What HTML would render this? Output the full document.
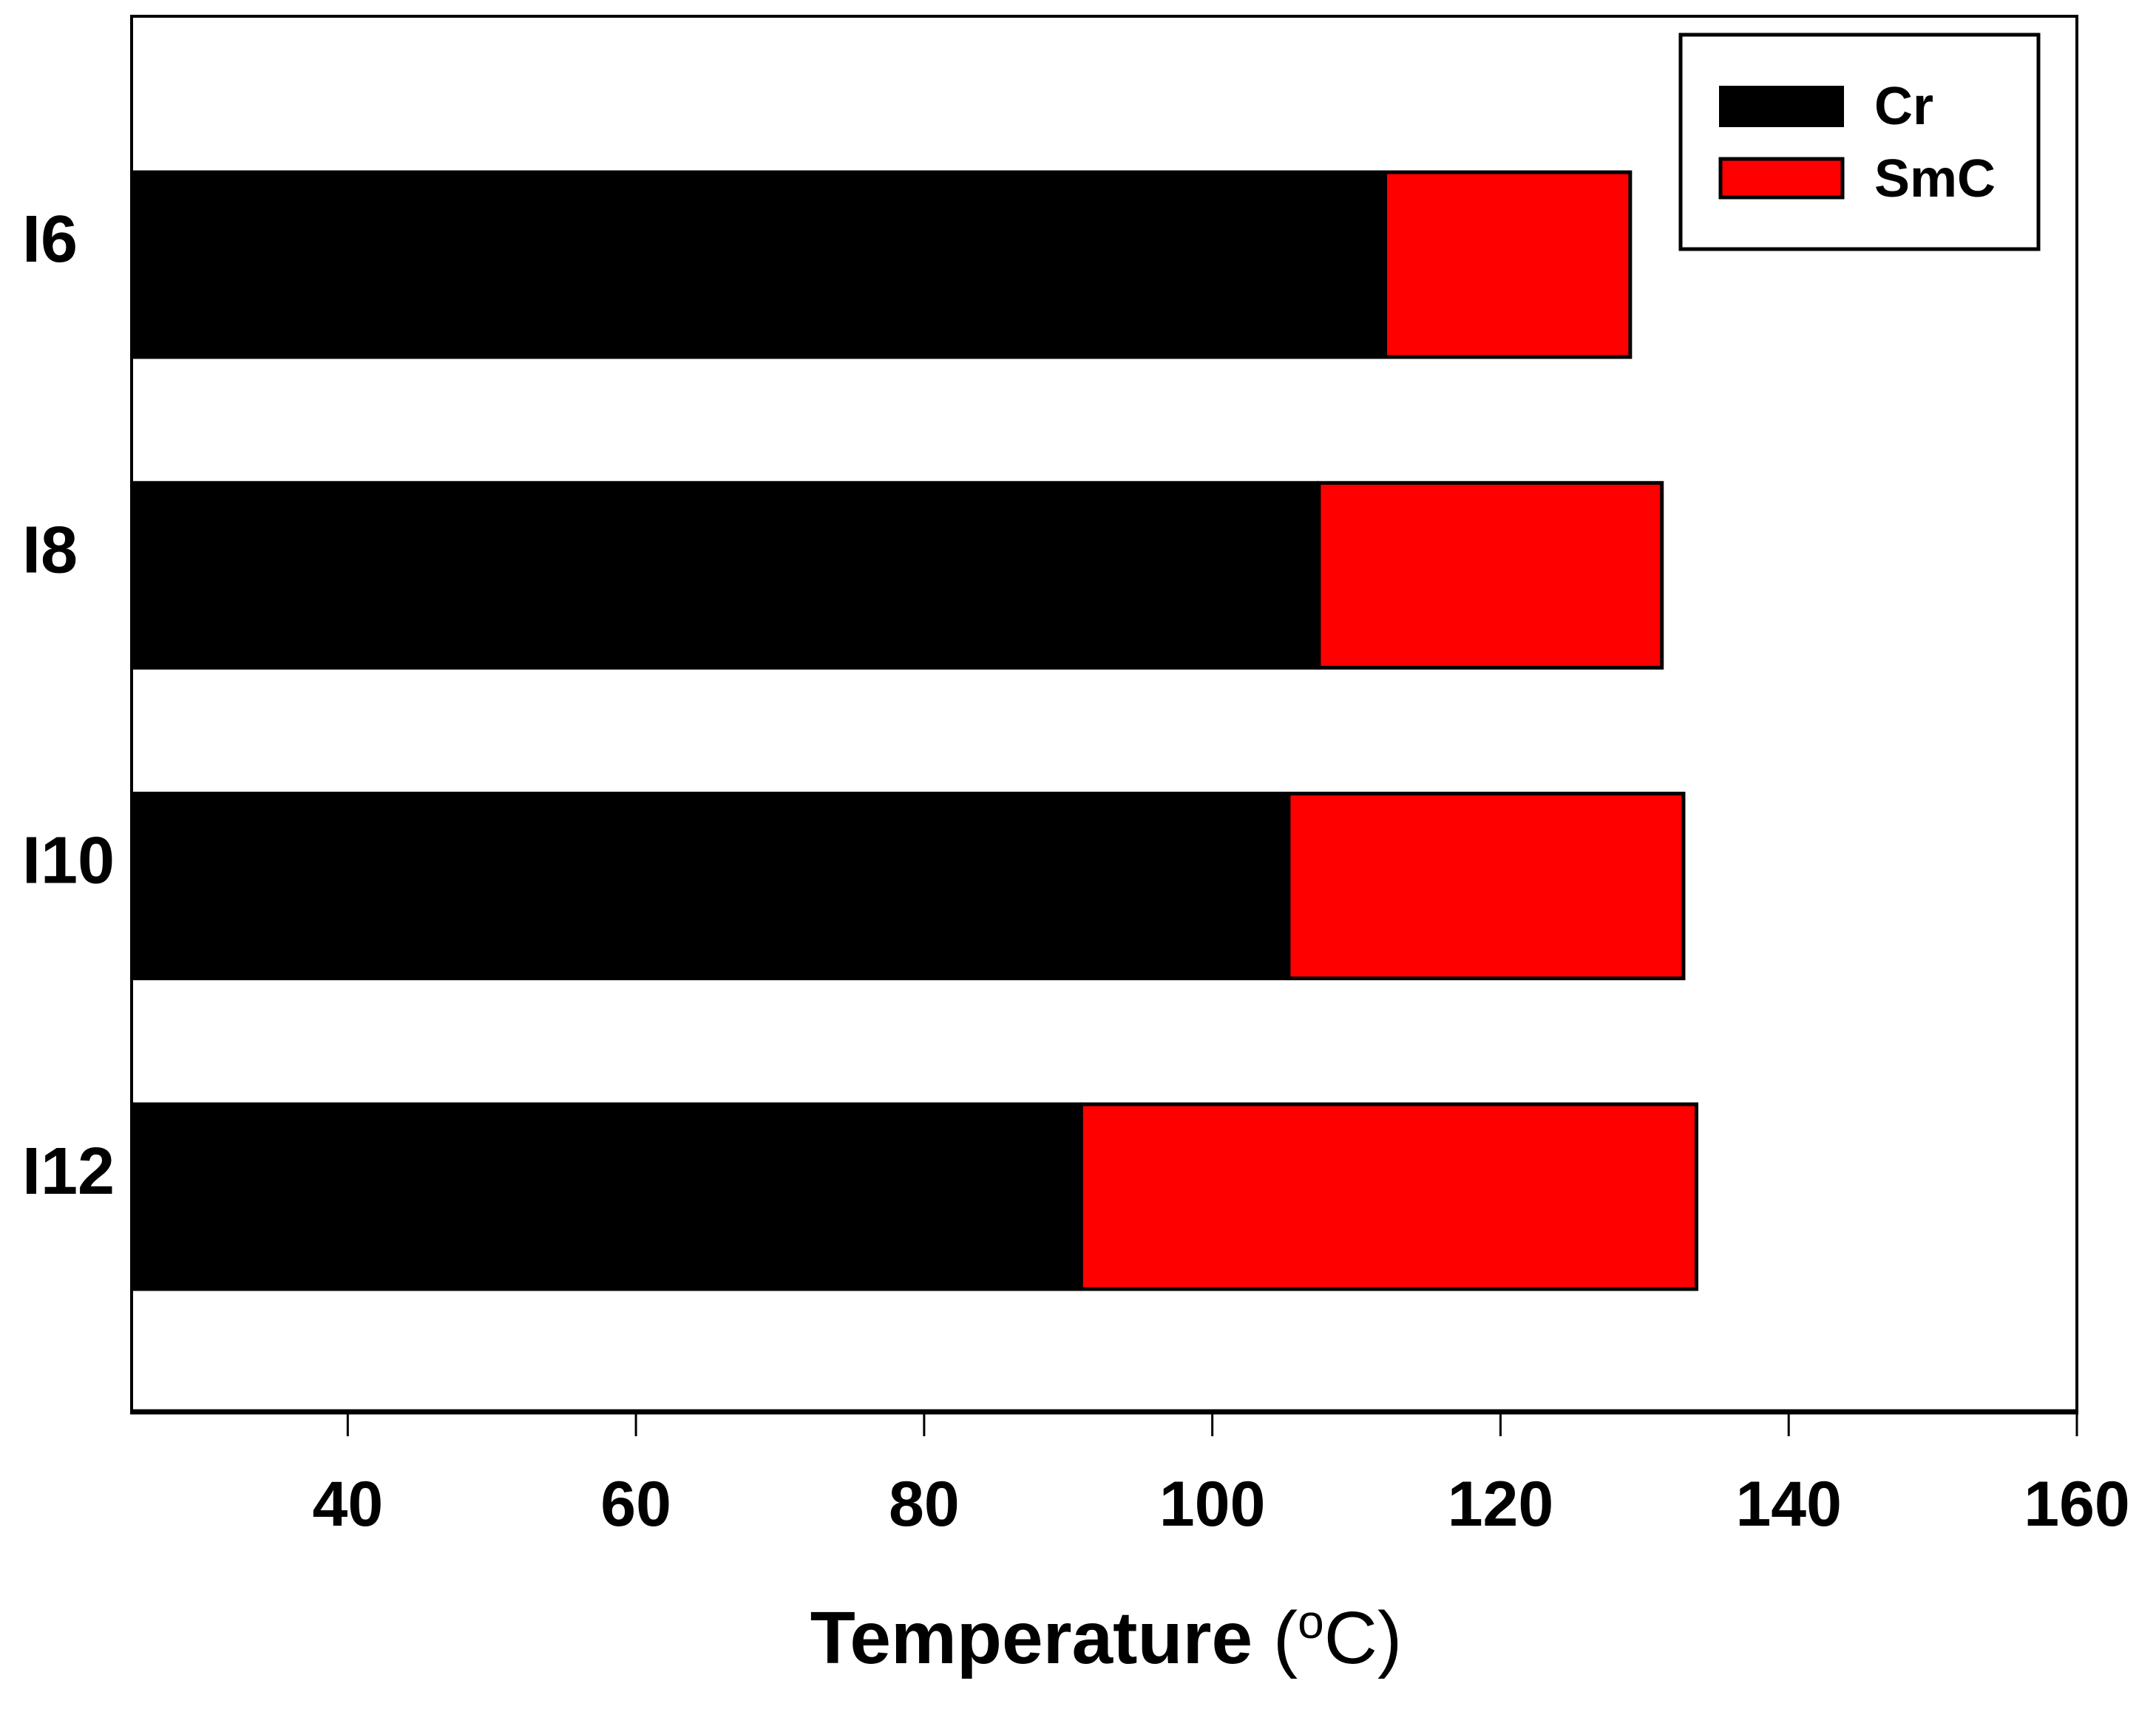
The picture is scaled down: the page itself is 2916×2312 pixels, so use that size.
<!DOCTYPE html>
<html><head><meta charset="utf-8"><style>
html,body{margin:0;padding:0;background:#fff}
svg{display:block}
text{font-family:"Liberation Sans",Arial,sans-serif}
</style></head><body>
<svg id="chart" width="2916" height="2312" viewBox="0 0 2916 2312">
<rect x="0" y="0" width="2916" height="2312" fill="#fff"/>
<g id="bars"></g>
<g id="axes"></g>
<g>
  <rect x="2273" y="47" width="484" height="290" fill="#fff" stroke="#000" stroke-width="5"/>
  <rect x="2325" y="116" width="169" height="56" fill="#000"/>
  <text x="2535" y="168" font-size="72" font-weight="bold">Cr</text>
  <rect x="2327" y="215" width="165" height="52" fill="#ff0000" stroke="#000" stroke-width="5"/>
  <text x="2535" y="266" font-size="72" font-weight="bold">SmC</text>
</g>
<text x="1496" y="2250" font-size="100" text-anchor="middle"><tspan font-weight="bold">Temperature</tspan> (<tspan font-size="64" dy="-34">o</tspan><tspan dy="34">C)</tspan></text>
</svg>
<script>
const categories = ["I6","I8","I10","I12"];
const crValues = [112, 107.4, 105.3, 90.9];
const smcValues = [129, 131.2, 132.7, 133.6];
const xTicks = [40, 60, 80, 100, 120, 140, 160];
const xMin = 25, xMax = 160;
const L = 178, R = 2809, T = 22, B = 1910;
const firstCenter = 358, pitch = 420.3, barH = 255;
const NS = "http://www.w3.org/2000/svg";
function xs(v){ return L + (v - xMin) / (xMax - xMin) * (R - L); }
function yc(i){ return firstCenter + i * pitch; }
const bars = document.getElementById('bars');
const axes = document.getElementById('axes');
function mk(tag, attrs, parent){ const e = document.createElementNS(NS, tag); for (const k in attrs) e.setAttribute(k, attrs[k]); parent.appendChild(e); return e; }
categories.forEach((c, i) => {
  const y0 = yc(i) - barH / 2;
  const cr = mk('rect', {x: xs(xMin), y: y0, width: xs(crValues[i]) - xs(xMin), height: barH, fill: '#000'}, bars);
  
  
  const sm = mk('rect', {x: xs(crValues[i]), y: y0 + 2.5, width: xs(smcValues[i]) - xs(crValues[i]), height: barH - 5, fill: '#ff0000', stroke: '#000', 'stroke-width': 5}, bars);
  
  
  const t = mk('text', {x: 30, y: yc(i) - 4, 'font-size': 90, 'font-weight': 'bold'}, axes);
  t.textContent = c;
  
  
});
const frame = mk('rect', {x: L, y: T, width: R - L, height: B - T, fill: 'none', stroke: '#000', 'stroke-width': 4}, axes);


const xl = mk('line', {x1: L - 2, y1: B, x2: R + 2, y2: B, stroke: '#000', 'stroke-width': 7}, axes);


xTicks.forEach(v => {
  const tk = mk('line', {x1: xs(v), y1: B, x2: xs(v), y2: B + 33, stroke: '#000', 'stroke-width': 3}, axes);
  
  
  const lb = mk('text', {x: xs(v), y: 2064, 'font-size': 86, 'font-weight': 'bold', 'text-anchor': 'middle'}, axes);
  lb.textContent = v;
  
  
});
</script>
</body></html>
